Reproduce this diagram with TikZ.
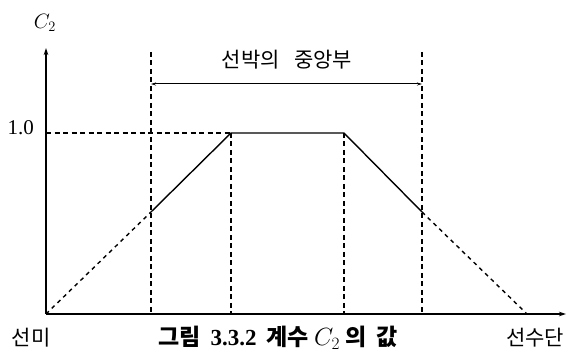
\documentclass[tikz,border=0pt]{standalone}
\usepackage{amsmath}
\usepackage{fontspec}
\setmainfont{Liberation Serif}
\newfontfamily\kor{Noto Sans CJK KR}
\usetikzlibrary{arrows.meta}

\tikzset{
  axis/.style={line width=1.5pt,-{Stealth[length=7pt,width=4.5pt]}},
  guide/.style={line width=1.2pt,dash pattern=on 5pt off 3.5pt},
  slope/.style={line width=1.4pt,dash pattern=on 4pt off 4pt},
  curve/.style={line width=1.4pt},
  lbl/.style={font=\kor\fontsize{21}{23}\selectfont,inner sep=0pt}
}

\begin{document}
\begin{tikzpicture}[x=1pt,y=1pt]
				\useasboundingbox (0,0) rectangle (566,355);
				
				\coordinate (O) at (46,41);
				\coordinate (Ytop) at (46,307);
				\coordinate (Xend) at (566,41);
				\coordinate (Y1) at (46,222);
				
				\coordinate (A) at (151,143);
				\coordinate (B) at (231,222);
				\coordinate (C) at (344,222);
				\coordinate (D) at (422,143);
				\coordinate (E) at (527,41);
				
				\coordinate (Ltop) at (151,303);
				\coordinate (Lbot) at (151,41);
				\coordinate (Rtop) at (422,303);
				\coordinate (Rbot) at (422,41);
				\coordinate (Bbot) at (231,41);
				\coordinate (Cbot) at (344,41);
				\coordinate (ML) at (151,271);
				\coordinate (MR) at (422,271);
				
				% axes
				\draw [axis] (O) -- (Ytop);
				\draw [axis] (O) -- (Xend);
				
				% dashed guides
				\draw [guide] (Ltop) -- (Lbot);
				\draw [guide] (Rtop) -- (Rbot);
				\draw [guide] (B) -- (Bbot);
				\draw [guide] (C) -- (Cbot);
				\draw [guide] (Y1) -- (B);
				
				% C2 curve
				\draw [slope] (O) -- (A);
				\draw [curve] (A) -- (B) -- (C) -- (D);
				\draw [slope] (D) -- (E);
				
				% midship range
				\draw [line width=1pt,{Stealth[length=5pt,width=3pt]}-{Stealth[length=5pt,width=3pt]}] (ML) -- (MR);
				
				\node [font=\fontsize{22}{24}\selectfont,inner sep=0pt] (c2) at (45,332) {$C_2$};
				\node [font=\fontsize{21}{23}\selectfont,inner sep=0pt,anchor=east] (one) at (34,227) {1.0};
				\node [lbl] (mid) at (287,295) {선박의\hspace{0.7em}중앙부};
				\node [lbl] (stern) at (31,17) {선미};
				\node [lbl] (bow) at (535,17) {선수단};
				\node [lbl,font=\kor\bfseries\fontsize{23}{25}\selectfont] (cap) at (278,17) {그림\hspace{0.2em} \textrm{3.3.2}\hspace{0.2em} 계수 $C_2$ 의\hspace{0.2em} 값};
			\end{tikzpicture}
\end{document}
